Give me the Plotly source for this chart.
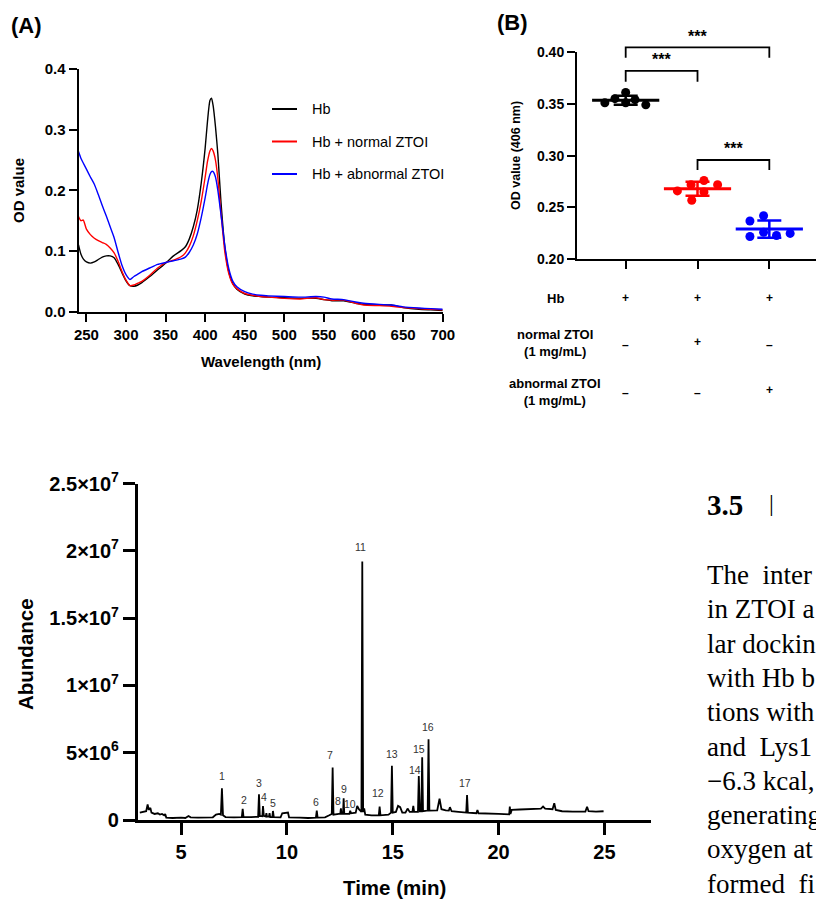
import numpy as np
import plotly.graph_objects as go

# ---------------- data ----------------
# (A) absorption spectra
wavelength = [240, 243, 246, 250, 255, 260, 265, 270, 275, 280, 285, 290, 295, 300, 305, 310, 315, 320,
              330, 340, 350, 360, 370, 375, 380, 385, 390, 395, 400, 403, 406, 408, 410, 413, 416, 420,
              425, 430, 435, 440, 450, 460, 470, 480, 500, 520, 540, 550, 560, 575, 590, 600, 620, 635,
              650, 670, 685, 700]
od_hb = [0.110, 0.095, 0.087, 0.082, 0.080, 0.082, 0.086, 0.090, 0.092, 0.092, 0.089, 0.078, 0.064, 0.051,
         0.043, 0.042, 0.044, 0.048, 0.058, 0.069, 0.080, 0.092, 0.101, 0.107, 0.120, 0.140, 0.168, 0.212,
         0.270, 0.315, 0.348, 0.352, 0.340, 0.305, 0.260, 0.180, 0.105, 0.065, 0.046, 0.037, 0.029, 0.026,
         0.025, 0.024, 0.023, 0.022, 0.022, 0.020, 0.018, 0.018, 0.014, 0.012, 0.011, 0.011, 0.007, 0.004,
         0.003, 0.002]
od_normal = [0.157, 0.150, 0.151, 0.136, 0.127, 0.121, 0.117, 0.114, 0.111, 0.105, 0.097, 0.083, 0.066, 0.052,
             0.043, 0.044, 0.047, 0.050, 0.060, 0.072, 0.081, 0.085, 0.091, 0.097, 0.108, 0.125, 0.150, 0.182,
             0.222, 0.248, 0.265, 0.269, 0.265, 0.250, 0.220, 0.162, 0.097, 0.062, 0.045, 0.038, 0.030, 0.027,
             0.025, 0.024, 0.022, 0.021, 0.023, 0.020, 0.019, 0.019, 0.014, 0.011, 0.010, 0.009, 0.007, 0.005,
             0.004, 0.003]
od_abnormal = [0.264, 0.253, 0.245, 0.235, 0.222, 0.210, 0.193, 0.175, 0.158, 0.140, 0.122, 0.098, 0.076, 0.061,
               0.053, 0.058, 0.062, 0.066, 0.072, 0.078, 0.081, 0.084, 0.087, 0.090, 0.098, 0.110, 0.128, 0.155,
               0.188, 0.210, 0.226, 0.231, 0.231, 0.222, 0.200, 0.160, 0.107, 0.070, 0.050, 0.041, 0.033, 0.029,
               0.027, 0.026, 0.025, 0.024, 0.025, 0.024, 0.021, 0.020, 0.016, 0.014, 0.012, 0.011, 0.008, 0.006,
               0.005, 0.004]
series_names = ["Hb", "Hb + normal ZTOI", "Hb + abnormal ZTOI"]

# (B) OD at 406 nm
groups = ["Hb", "normal ZTOI", "abnormal ZTOI"]
od406_hb = [0.351, 0.355, 0.361, 0.351, 0.354, 0.349]
od406_normal = [0.266, 0.272, 0.276, 0.257, 0.265, 0.272]
od406_abnormal = [0.237, 0.242, 0.222, 0.226, 0.223, 0.225]
row_labels = ["Hb", "normal ZTOI<br>(1 mg/mL)", "abnormal ZTOI<br>(1 mg/mL)"]
row_hb = ["+", "+", "+"]
row_normal = ["–", "+", "–"]
row_abnormal = ["–", "–", "+"]
sig_pairs = [(0, 2), (0, 1), (1, 2)]
sig_text = ["***", "***", "***"]

# (C) GC-MS chromatogram (time in min, abundance in millions)
time_min = [3.05, 3.2, 3.35, 3.42, 3.47, 3.55, 3.6, 3.75, 3.9, 4.0, 4.1, 4.2, 4.25, 4.3, 4.6, 5.0, 5.2, 5.35,
            5.45, 5.8, 6.2, 6.5, 6.65, 6.8, 6.88, 6.93, 6.98, 7.1, 7.5, 7.87, 7.91, 7.95, 8.3, 8.64, 8.68,
            8.72, 8.84, 8.87, 8.91, 9.0, 9.03, 9.06, 9.15, 9.18, 9.21, 9.31, 9.34, 9.38, 9.7, 9.78, 10.05,
            10.1, 10.6, 11.0, 11.37, 11.41, 11.45, 11.8, 12.0, 12.12, 12.16, 12.2, 12.45, 12.52, 12.55,
            12.58, 12.65, 12.68, 12.71, 12.95, 12.99, 13.03, 13.25, 13.32, 13.4, 13.52, 13.56, 13.6, 13.65,
            13.7, 14.0, 14.34, 14.38, 14.42, 14.8, 14.92, 14.96, 15.0, 15.15, 15.25, 15.35, 15.45, 15.6,
            15.7, 15.8, 15.93, 15.97, 16.01, 16.19, 16.23, 16.28, 16.35, 16.39, 16.43, 16.65, 16.69, 16.73,
            17.1, 17.21, 17.3, 17.5, 17.65, 17.7, 17.78, 18.1, 18.47, 18.51, 18.55, 18.95, 19.0, 19.05,
            19.5, 20.0, 20.5, 20.53, 20.56, 20.62, 21.0, 21.5, 22.0, 22.1, 22.2, 22.55, 22.63, 22.7, 23.0,
            23.5, 24.1, 24.18, 24.25, 24.6, 24.96]
abundance_m = [0.55, 0.60, 0.65, 1.15, 0.75, 0.90, 0.55, 0.45, 0.50, 0.40, 0.45, 0.35, 0.45, 0.18, 0.15, 0.18,
               0.15, 0.30, 0.20, 0.18, 0.17, 0.20, 0.40, 0.45, 0.40, 2.35, 0.35, 0.22, 0.20, 0.22, 0.82, 0.22,
               0.22, 0.24, 1.92, 0.30, 0.28, 1.03, 0.30, 0.25, 0.50, 0.25, 0.25, 0.50, 0.22, 0.22, 0.67, 0.22,
               0.20, 0.50, 0.55, 0.20, 0.18, 0.15, 0.18, 0.69, 0.18, 0.20, 0.35, 0.45, 3.90, 0.40, 0.45, 0.45,
               0.87, 0.45, 0.45, 1.61, 0.45, 0.45, 0.68, 0.50, 0.55, 1.05, 0.80, 0.60, 19.2, 0.60, 0.87, 0.40,
               0.35, 0.35, 1.00, 0.35, 0.40, 0.55, 4.02, 0.55, 0.60, 1.05, 0.95, 0.55, 0.55, 0.85, 0.60, 0.60,
               1.04, 0.60, 0.60, 3.27, 0.65, 0.65, 4.66, 0.65, 0.70, 6.00, 0.70, 0.72, 1.58, 0.80, 0.72, 0.70,
               0.95, 0.65, 0.60, 0.55, 1.86, 0.55, 0.50, 0.75, 0.50, 0.50, 0.45, 0.42, 0.99, 0.45, 0.75, 0.78,
               0.80, 0.85, 1.00, 0.85, 0.80, 1.24, 0.75, 0.65, 0.62, 0.62, 0.99, 0.65, 0.62, 0.65]
peak_ids = [str(i) for i in range(1, 18)]
abund_ticks = [0, 5e6, 1e7, 1.5e7, 2e7, 2.5e7]
abund_ticktext = ["0", "5×10<sup>6</sup>", "1×10<sup>7</sup>", "1.5×10<sup>7</sup>",
                  "2×10<sup>7</sup>", "2.5×10<sup>7</sup>"]

# visible fragment of the neighbouring text column
section_no = "3.5"
body_lines = ["The  inter", "in ZTOI a", "lar dockin", "with Hb b", "tions with", "and  Lys1",
              "−6.3 kcal,", "generating", "oxygen at", "formed  fi"]

# ---------------- layout helpers ----------------
W, H = 816, 900
SANS = "Liberation Sans"
SERIF = "Liberation Serif"


def PX(x):
    return x / W


def PY(y):
    return 1 - y / H


colors = ["#000000", "#ff0000", "#0000ff"]

A_dom_x = [PX(78.5), PX(442.7)]
A_dom_y = [PY(311.7), PY(69)]
B_dom_x = [PX(577), 1.0]
B_dom_y = [PY(259.3), PY(52)]
B_yrange = [0.2, 0.4]
C_dom_x = [PX(137.9), PX(651)]
C_dom_y = [PY(820), PY(483.5)]


def yB(v):
    return B_dom_y[0] + (v - B_yrange[0]) / (B_yrange[1] - B_yrange[0]) * (B_dom_y[1] - B_dom_y[0])


fig = go.Figure()

# ---- (A) spectra
for name, vals, c in zip(series_names, [od_hb, od_normal, od_abnormal], colors):
    fig.add_trace(go.Scatter(x=wavelength, y=vals, mode="lines", name=name,
                             line=dict(color=c, width=1.4, shape="spline", smoothing=0.6),
                             xaxis="x", yaxis="y", showlegend=False))

# ---- (B) dot plot
swarm_offsets = [[-0.29, -0.15, 0.0, 0.0, 0.13, 0.28],
                 [-0.28, -0.09, 0.09, -0.08, 0.09, 0.28],
                 [-0.27, -0.08, -0.27, -0.08, 0.10, 0.29]]
for gi, (vals, c) in enumerate(zip([od406_hb, od406_normal, od406_abnormal], colors)):
    fig.add_trace(go.Scatter(x=[gi + o for o in swarm_offsets[gi]], y=vals, mode="markers",
                             marker=dict(color=c, size=9), xaxis="x2", yaxis="y2", showlegend=False,
                             cliponaxis=False))
for gi, (vals, c) in enumerate(zip([od406_hb, od406_normal, od406_abnormal], colors)):
    fig.add_trace(go.Scatter(x=[gi], y=[float(np.mean(vals))], mode="markers",
                             marker=dict(symbol="line-ew", size=48, line=dict(color=c, width=3)),
                             error_y=dict(type="data", array=[float(np.std(vals, ddof=1))], color=c,
                                          thickness=2.5, width=12),
                             xaxis="x2", yaxis="y2", showlegend=False, cliponaxis=False))

# ---- (C) chromatogram
fig.add_trace(go.Scatter(x=time_min, y=[a * 1e6 for a in abundance_m], mode="lines",
                         line=dict(color="black", width=1.8), xaxis="x3", yaxis="y3", showlegend=False))

ann = []
shapes = []

# panel letters
ann.append(dict(text="(A)", x=PX(9), y=PY(25), xanchor="left", yanchor="middle",
                font=dict(family=SANS, size=22, weight="bold")))
ann.append(dict(text="(B)", x=PX(495), y=PY(22), xanchor="left", yanchor="middle",
                font=dict(family=SANS, size=22, weight="bold")))

# (A) titles
ann.append(dict(text="OD value", x=PX(19), y=PY(191), textangle=-90, xanchor="center", yanchor="middle",
                font=dict(family=SANS, size=15, weight="bold")))
ann.append(dict(text="Wavelength (nm)", x=PX(261), y=PY(361), xanchor="center", yanchor="middle",
                font=dict(family=SANS, size=15, weight="bold")))
# (A) legend
for i, (name, c) in enumerate(zip(series_names, colors)):
    ly = 109 + i * 32.5
    shapes.append(dict(type="line", xref="paper", yref="paper", x0=PX(272), x1=PX(297), y0=PY(ly), y1=PY(ly),
                       line=dict(color=c, width=2)))
    ann.append(dict(text=name, x=PX(310), y=PY(ly), xanchor="left", yanchor="middle",
                    font=dict(family=SANS, size=14.5, color="black")))

# (B) titles
ann.append(dict(text="OD value (406 nm)", x=PX(516), y=PY(156), textangle=-90, xanchor="center",
                yanchor="middle", font=dict(family=SANS, size=12.5, weight="bold")))
# (B) brackets
bracket_levels = [(0.4045, 0.3945, 0.4150), (0.3817, 0.3713, 0.3925), (0.2958, 0.2862, 0.3070)]
for (g0, g1), (top, end, lab), t in zip(sig_pairs, bracket_levels, sig_text):
    shapes.append(dict(type="path", xref="x2", yref="paper",
                       path=f"M {g0},{yB(end)} L {g0},{yB(top)} L {g1},{yB(top)} L {g1},{yB(end)}",
                       line=dict(color="black", width=1.8)))
    ann.append(dict(text=t, x=(g0 + g1) / 2, xref="x2", y=yB(lab), yref="paper", xanchor="center",
                    yanchor="middle", font=dict(family=SANS, size=16, weight="bold")))
# (B) condition table
row_y = [298, 343, 392]
row_sym_dy = [{"+": 0, "–": 0}, {"+": -1, "–": 2}, {"+": -2, "–": 1}]
for label, ry, row, dy in zip(row_labels, row_y, [row_hb, row_normal, row_abnormal], row_sym_dy):
    ann.append(dict(text=label, x=PX(555), y=PY(ry), xanchor="center", yanchor="middle",
                    font=dict(family=SANS, size=13, weight="bold")))
    for gi, sym in enumerate(row):
        ann.append(dict(text=sym, x=gi, xref="x2", y=PY(ry + dy[sym]),
                        xanchor="center", yanchor="middle", font=dict(family=SANS, size=12, weight="bold")))

# (C) titles and peak numbers
ann.append(dict(text="Abundance", x=PX(25), y=PY(654), textangle=-90, xanchor="center", yanchor="middle",
                font=dict(family=SANS, size=20.5, weight="bold")))
ann.append(dict(text="Time (min)", x=PX(394.5), y=PY(887), xanchor="center", yanchor="middle",
                font=dict(family=SANS, size=20.5, weight="bold")))
peak_label_pos = [(6.94, 3.27e6), (7.96, 1.49e6), (8.69, 2.72e6), (8.93, 1.73e6), (9.36, 1.28e6),
                  (11.37, 1.35e6), (12.05, 4.83e6), (12.39, 1.43e6), (12.68, 2.28e6), (13.0, 1.19e6),
                  (13.48, 20.26e6), (14.3, 1.99e6), (14.97, 4.88e6), (16.04, 3.71e6), (16.23, 5.27e6),
                  (16.68, 6.88e6), (18.42, 2.72e6)]
for pid, (px_, py_) in zip(peak_ids, peak_label_pos):
    ann.append(dict(text=pid, x=px_, y=py_, xref="x3", yref="y3", xanchor="center", yanchor="middle",
                    font=dict(family=SANS, size=10.5, color="#333333")))

# right-hand text column
ann.append(dict(text=section_no, x=PX(705), y=PY(505), xanchor="left", yanchor="middle",
                font=dict(family=SERIF, size=29, weight="bold")))
ann.append(dict(text="|", x=PX(771), y=PY(503), xanchor="center", yanchor="middle",
                font=dict(family=SERIF, size=24)))
for i, line in enumerate(body_lines):
    ann.append(dict(text=line, x=PX(705), y=PY(575 + i * 34.3), xanchor="left", yanchor="middle",
                    font=dict(family=SERIF, size=27)))

for a in ann:
    a.setdefault("xref", "paper")
    a.setdefault("yref", "paper")
    a["showarrow"] = False

axis_common = dict(showline=True, linecolor="black", ticks="outside", tickcolor="black",
                   showgrid=False, zeroline=False, mirror=False)

fig.update_layout(
    autosize=True, margin=dict(l=0, r=0, t=0, b=0, autoexpand=False),
    paper_bgcolor="white", plot_bgcolor="white",
    font=dict(family=SANS, color="black"),
    xaxis=dict(domain=A_dom_x, range=[240, 700], tickvals=list(range(250, 701, 50)),
               linewidth=2, tickwidth=2, ticklen=8, anchor="y",
               tickfont=dict(family=SANS, size=15, weight="bold"), **axis_common),
    yaxis=dict(domain=A_dom_y, range=[0, 0.4], tickvals=[0, 0.1, 0.2, 0.3, 0.4], tickformat=".1f",
               linewidth=2, tickwidth=2, ticklen=8, anchor="x",
               tickfont=dict(family=SANS, size=15, weight="bold"), **axis_common),
    xaxis2=dict(domain=B_dom_x, range=[-0.678, 2.65], tickvals=[0, 1, 2], showticklabels=False,
                linewidth=2, tickwidth=2, ticklen=8, anchor="y2", **axis_common),
    yaxis2=dict(domain=B_dom_y, range=B_yrange, tickvals=[0.20, 0.25, 0.30, 0.35, 0.40], tickformat=".2f",
                linewidth=2, tickwidth=2, ticklen=8, anchor="x2",
                tickfont=dict(family=SANS, size=14, weight="bold"), **axis_common),
    xaxis3=dict(domain=C_dom_x, range=[2.96, 27.2], tickvals=[5, 10, 15, 20, 25],
                linewidth=3, tickwidth=3, ticklen=12, anchor="y3",
                tickfont=dict(family=SANS, size=20, weight="bold"), **axis_common),
    yaxis3=dict(domain=C_dom_y, range=[0, 2.5e7], tickvals=abund_ticks, ticktext=abund_ticktext,
                linewidth=3, tickwidth=3, ticklen=12, anchor="x3",
                tickfont=dict(family=SANS, size=20, weight="bold"), **axis_common),
    annotations=ann, shapes=shapes, showlegend=False,
)

# the 816x900 div is pinned to the page corner so the browser's default body margin adds no offset
fig.write_html("out.html", config={"displayModeBar": False},
               default_width="816px", default_height="900px; position:absolute; top:0; left:0")
